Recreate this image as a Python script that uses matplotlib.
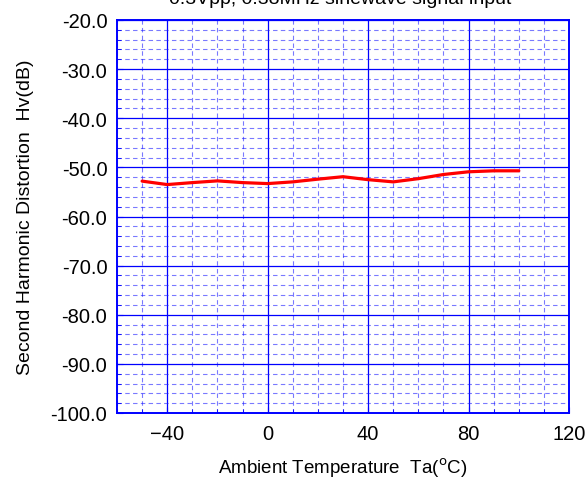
import matplotlib
matplotlib.use("Agg")
import matplotlib.pyplot as plt
from matplotlib.ticker import MultipleLocator, FormatStrFormatter

# second harmonic distortion vs ambient temperature
temp_c = [-50, -40, -30, -20, -10, 0, 10, 20, 30, 40, 50, 60, 70, 80, 90, 100]
hv_db = [-52.8, -53.5, -53.1, -52.75, -53.1, -53.3, -52.95, -52.4, -51.9,
         -52.5, -52.95, -52.3, -51.45, -50.9, -50.7, -50.7]
x_ticks = [-40, 0, 40, 80, 120]
title = "0.3Vpp, 0.38MHz sinewave signal input"

plt.rcParams["font.family"] = ["Liberation Sans", "DejaVu Sans"]
BLUE = "#0000ff"

fig = plt.figure(figsize=(5.87, 4.85), dpi=100)
ax = fig.add_axes([117 / 587, 71 / 485, 452 / 587, 393 / 485])

ax.plot(temp_c, hv_db, color="#ff0000", lw=2.3, solid_capstyle="round", zorder=5)

ax.set_xlim(-60, 120)
ax.set_ylim(-100, -20)
ax.set_xticks(x_ticks)
ax.xaxis.set_minor_locator(MultipleLocator(10))
ax.yaxis.set_major_locator(MultipleLocator(10))
ax.yaxis.set_minor_locator(MultipleLocator(2))
ax.yaxis.set_major_formatter(FormatStrFormatter("%.1f"))

ax.grid(which="major", color=BLUE, lw=0.9, ls="-")
ax.grid(which="minor", color="#2020ff", lw=0.8, ls=(0, (4, 3)), alpha=0.6)
ax.set_axisbelow(True)
for s in ax.spines.values():
    s.set_color(BLUE)
    s.set_linewidth(1.4)
ax.tick_params(which="both", direction="in", color=BLUE, labelsize=14.5)
ax.tick_params(axis="y", pad=7)
ax.tick_params(axis="x", pad=8)
ax.tick_params(which="major", length=4)
ax.tick_params(which="minor", length=3)

ax.set_xlabel("Ambient Temperature  Ta($^{\\rm o}$C)", fontsize=13.5, labelpad=9)
ax.set_ylabel("Second Harmonic Distortion  Hv(dB)", fontsize=14, labelpad=12)
fig.text(0.58, 1 - 4 / 485, title, ha="center", va="baseline", fontsize=14)

fig.savefig("out.png", dpi=100)
